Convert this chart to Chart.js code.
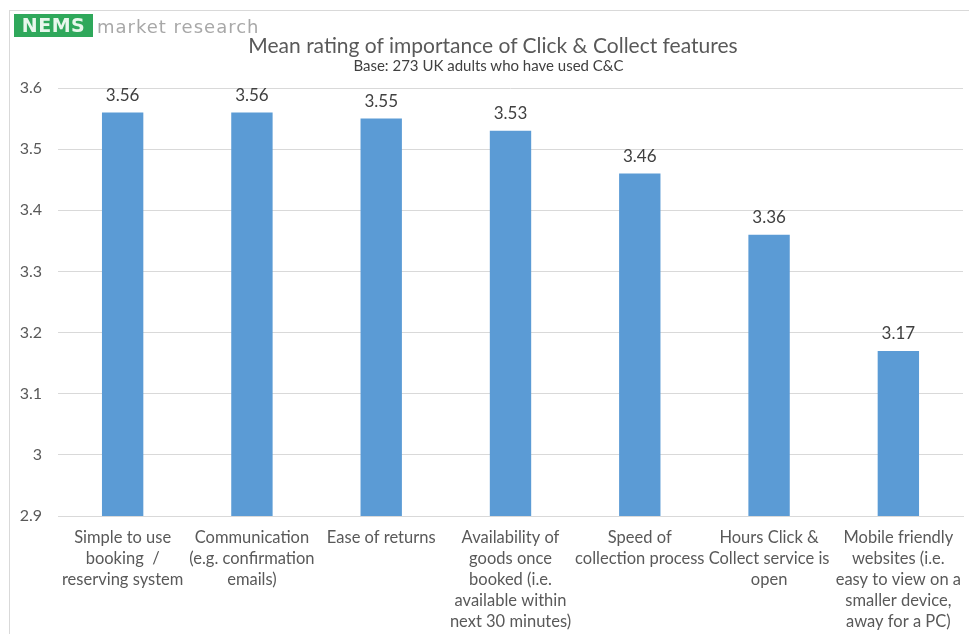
<!DOCTYPE html>
<html>
<head>
<meta charset="utf-8">
<script src="https://cdn.jsdelivr.net/npm/chart.js@4/dist/chart.umd.min.js"></script>
<style>
  html, body { margin: 0; padding: 0; background: #fff; overflow: hidden; }
  #wrap { position: relative; width: 969px; height: 634px; }
  #frame { position: absolute; left: 9px; top: 10px; width: 1000px; height: 700px; border: 1px solid #d9d9d9; }
  #logo { position: absolute; left: 14px; top: 14px; height: 23px; white-space: nowrap; }
  #logo .nems { display: inline-block; width: 79px; text-align: center; background: #2fa85b; color: #e8f7ec; font-family: "DejaVu Sans", sans-serif; font-weight: bold; font-size: 19px; line-height: 23px; letter-spacing: 0.5px; }
  #logo .mr { color: #a8a8a8; font-family: "DejaVu Sans", sans-serif; font-size: 18px; letter-spacing: 1px; margin-left: 4px; vertical-align: top; line-height: 25px; }
  .ttl { position: absolute; left: 0; width: 969px; text-align: center; font-family: Lato, sans-serif; white-space: nowrap; }
  #title { top: 32px; font-size: 21px; line-height: 26px; color: #595959; padding-left: 17px; box-sizing: border-box; }
  #subtitle { top: 55px; font-size: 15px; line-height: 20px; color: #404040; padding-left: 8px; box-sizing: border-box; }
  canvas { position: absolute; left: 0; top: 0; }
</style>
</head>
<body>
<div id="wrap">
  <div id="frame"></div>
  <canvas id="chart" width="969" height="634"></canvas>
  <div id="logo"><span class="nems">NEMS</span><span class="mr">market research</span></div>
  <div id="title" class="ttl">Mean rating of importance of Click &amp; Collect features</div>
  <div id="subtitle" class="ttl">Base: 273 UK adults who have used C&amp;C</div>
</div>
<script>
document.addEventListener("DOMContentLoaded", function (event) {
    main();
});

var categories = [
    ["Simple to use", "booking  /", "reserving system"],
    ["Communication", "(e.g. confirmation", "emails)"],
    ["Ease of returns"],
    ["Availability of", "goods once", "booked (i.e.", "available within", "next 30 minutes)"],
    ["Speed of", "collection process"],
    ["Hours Click &", "Collect service is", "open"],
    ["Mobile friendly", "websites (i.e.", "easy to view on a", "smaller device,", "away for a PC)"]
];
var meanRatings = [3.56, 3.56, 3.55, 3.53, 3.46, 3.36, 3.17];
var yTicks = [2.9, 3, 3.1, 3.2, 3.3, 3.4, 3.5, 3.6];

var FONT = "Lato, 'Open Sans', sans-serif";

// draws the value above each bar
var valueLabels = {
    id: 'valueLabels',
    afterDatasetsDraw: function (chart) {
        var ctx = chart.ctx;
        var meta = chart.getDatasetMeta(0);
        ctx.save();
        ctx.font = "17px " + FONT;
        ctx.fillStyle = "#404040";
        ctx.textAlign = "center";
        ctx.textBaseline = "middle";
        meta.data.forEach(function (bar, i) {
            ctx.fillText(meanRatings[i].toFixed(2), bar.x, bar.y - 17);
        });
        ctx.restore();
    }
};

function main() {
    var ctx = document.getElementById('chart');
    new Chart(ctx, {
        type: 'bar',
        data: {
            labels: categories,
            datasets: [{
                label: 'Mean rating',
                data: meanRatings,
                backgroundColor: "#5b9bd5",
                categoryPercentage: 1,
                barPercentage: 0.32
            }]
        },
        plugins: [valueLabels],
        options: {
            responsive: false,
            animation: false,
            layout: { padding: { left: 0, right: 6, top: 88, bottom: 0 } },
            plugins: {
                legend: { display: false },
                tooltip: { enabled: false },
                title: { display: false }
            },
            scales: {
                x: {
                    grid: { display: false, drawTicks: false },
                    border: { display: true, color: '#d9d9d9', width: 1 },
                    ticks: {
                        color: '#595959',
                        font: { family: FONT, size: 16.5, lineHeight: 1.27 },
                        padding: 11,
                        maxRotation: 0,
                        autoSkip: false
                    },
                    afterFit: function (scale) {
                        scale.height = 118;
                        scale.paddingLeft = 0;
                        scale.paddingRight = 0;
                    }
                },
                y: {
                    min: 2.9,
                    max: 3.6,
                    afterBuildTicks: function (scale) {
                        scale.ticks = yTicks.map(function (v) { return { value: v }; });
                    },
                    grid: { color: '#d9d9d9', drawTicks: false },
                    border: { display: false },
                    ticks: {
                        color: '#595959',
                        font: { family: FONT, size: 16 },
                        padding: 16,
                        callback: function (v) { return String(+Number(v).toFixed(1)); }
                    },
                    afterFit: function (scale) {
                        scale.width = 58;
                        scale.paddingTop = 0;
                        scale.paddingBottom = 0;
                    }
                }
            }
        }
    });
}
</script>
</body>
</html>
